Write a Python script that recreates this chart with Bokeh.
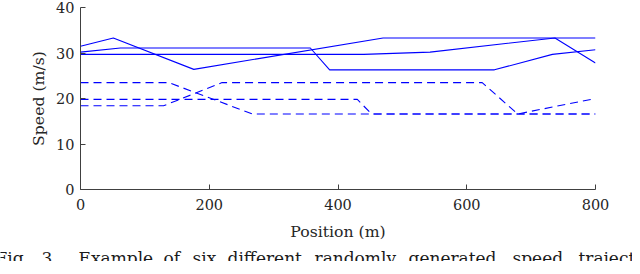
from bokeh.plotting import figure
from bokeh.models import Range1d, FixedTicker
from bokeh.layouts import column
from bokeh.core.properties import value
from bokeh.embed import file_html
from bokeh.resources import INLINE

# ---- data ----
pos_a = [0, 51, 176, 470, 800]
spd_a = [31.5, 33.3, 26.4, 33.3, 33.3]
pos_b = [0, 62, 357, 387, 643, 733, 800]
spd_b = [30.2, 31.1, 31.1, 26.3, 26.3, 29.7, 30.7]
pos_c = [0, 440, 543, 737, 800]
spd_c = [29.7, 29.7, 30.2, 33.3, 27.8]

pos_d = [0, 137, 267, 800]
spd_d = [23.5, 23.5, 16.6, 16.6]
pos_e = [0, 430, 452, 800]
spd_e = [19.8, 19.8, 16.6, 16.6]
pos_f = [0, 129, 220, 624, 679, 800]
spd_f = [18.4, 18.4, 23.5, 23.5, 16.6, 20.0]

x_ticks = [0, 200, 400, 600, 800]
y_ticks = [0, 10, 20, 30, 40]

# caption (justified in the reference, so set word by word)
caption_words = ["Fig.", "3.", "Example", "of", "six", "different", "randomly",
                 "generated", "speed", "trajectories"]
caption_px = [-5, 41, 78, 163, 192, 227, 314, 408, 512, 578]   # layout, px

FONT = "DejaVu Serif"
AX = "#404040"

p = figure(width=632, height=245, output_backend="svg", toolbar_location=None,
           x_range=Range1d(0, 800), y_range=Range1d(0, 40),
           min_border_left=80, min_border_right=37, min_border_top=7,
           min_border_bottom=56)
p.frame_align = False
p.outline_line_color = None
p.xgrid.visible = False
p.ygrid.visible = False

solid = [(pos_a, spd_a), (pos_b, spd_b), (pos_c, spd_c)]
dashed = [(pos_d, spd_d), (pos_e, spd_e), (pos_f, spd_f)]
for xs, ys in solid:
    p.line(xs, ys, line_color="#0000ff", line_width=1.1)
for xs, ys in dashed:
    p.line(xs, ys, line_color="#0000ff", line_width=1.1, line_dash="8 5")

for ax in (p.xaxis[0], p.yaxis[0]):
    ax.axis_line_color = AX
    ax.major_tick_line_color = AX
    ax.major_tick_in = 5
    ax.major_tick_out = 0
    ax.minor_tick_line_color = None
    ax.major_label_text_font = FONT
    ax.major_label_text_font_size = "14.5px"
    ax.major_label_text_color = "#262626"
    ax.axis_label_text_font = FONT
    ax.axis_label_text_font_size = "15.7px"
    ax.axis_label_text_font_style = "normal"
    ax.axis_label_text_color = "#262626"

p.xaxis.ticker = FixedTicker(ticks=x_ticks)
p.yaxis.ticker = FixedTicker(ticks=y_ticks)
p.xaxis.axis_label = "Position (m)"
p.yaxis.axis_label = "Speed (m/s)"
p.xaxis.major_label_standoff = 9
p.xaxis.axis_label_standoff = 9
p.yaxis.major_label_standoff = 6
p.yaxis.axis_label_standoff = 5

# caption strip below the chart
cap = figure(width=632, height=16, output_backend="svg", toolbar_location=None,
             x_range=Range1d(0, 632), y_range=Range1d(0, 16),
             x_axis_location=None, y_axis_location=None,
             min_border=0, min_border_left=0, min_border_right=0,
             min_border_top=0, min_border_bottom=0)
cap.frame_align = False
cap.outline_line_color = None
cap.xgrid.visible = False
cap.ygrid.visible = False
cap.text(x=caption_px, y=[4] * len(caption_words), text=caption_words,
         text_font=value(FONT), text_font_size=value("17px"),
         text_color="#1a1a1a", text_baseline="alphabetic", text_align="left")

open("out.html", "w").write(file_html(column(p, cap, spacing=0), INLINE))
